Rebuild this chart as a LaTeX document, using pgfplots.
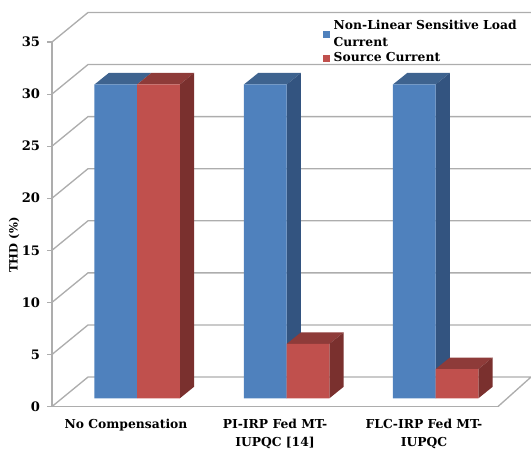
\documentclass[border=0pt]{standalone}
\usepackage{fontspec}
\setmainfont{DejaVu Serif}
\usepackage{pgfplots}
\pgfplotsset{compat=1.18}
\definecolor{wallgray}{HTML}{ADADAD}
\definecolor{bluefront}{HTML}{4F81BD}
\definecolor{bluetop}{HTML}{3E638F}
\definecolor{blueside}{HTML}{335480}
\definecolor{redfront}{HTML}{C0504D}
\definecolor{redtop}{HTML}{8E3B39}
\definecolor{redside}{HTML}{7A302E}
\pgfplotsset{squarekey/.style={legend image code/.code={\fill[##1] (0pt,-2.9pt) rectangle (5.4pt,2.6pt);}}}
\begin{document}
\begin{tikzpicture}[x=1pt,y=1pt]
\begin{axis}[
  name=chart,
  scale only axis,
  width=334.5pt, height=273.4pt,
  xmin=52, xmax=498,
  ymin=-0.784, ymax=34.06,
  clip=false,
  axis x line=bottom,
  axis y line=left,
  axis line style={wallgray, line width=1pt, -},
  ytick={-0.784,4.194,9.172,14.15,19.128,24.106,29.084,34.06},
  yticklabels={0,5,10,15,20,25,30,35},
  xtick={126,275,424},
  xticklabels={{No Compensation},{PI-IRP Fed MT-\\IUPQC [14]},{FLC-IRP Fed MT-\\IUPQC}},
  xticklabel style={align=center, font=\fontsize{9.25}{13.6}\selectfont\bfseries, yshift=-2.2pt},
  yticklabel style={font=\fontsize{9.8}{12}\selectfont\bfseries, xshift=-2pt},
  x tick style={draw=none},
  y tick style={wallgray, line width=0.8pt},
  major tick length=3.5pt,
  tick align=outside,
  extra x ticks={52,200.6,349,498},
  extra x tick labels={},
  extra x tick style={tick style={wallgray, line width=0.8pt}, major tick length=4pt},
  ylabel={THD (\%)},
  ylabel style={at={(axis description cs:-0.085,0.443)}, anchor=center, rotate=0,
    font=\fontsize{8.6}{10}\selectfont\bfseries},
  legend style={draw=none, fill=none, at={(axis cs:323,36.4)}, anchor=north west,
    font=\fontsize{9.25}{12.6}\selectfont\bfseries,
    cells={align=left, anchor=west}, row sep=-0.8pt, inner sep=0pt, outer sep=0pt,
    /tikz/column 1/.style={column sep=0.6pt}},
  bar width=42.7,
]
% side wall and back wall rules, one per tick
\addplot[sharp plot, wallgray, line width=1pt, forget plot] coordinates {(498,-0.784) (531,2.036) (88,2.036) (52,-0.784)};
\addplot[sharp plot, wallgray, line width=1pt, forget plot] coordinates {(52,4.194) (88,7.014) (531,7.014)};
\addplot[sharp plot, wallgray, line width=1pt, forget plot] coordinates {(52,9.172) (88,11.992) (531,11.992)};
\addplot[sharp plot, wallgray, line width=1pt, forget plot] coordinates {(52,14.15) (88,16.97) (531,16.97)};
\addplot[sharp plot, wallgray, line width=1pt, forget plot] coordinates {(52,19.128) (88,21.948) (531,21.948)};
\addplot[sharp plot, wallgray, line width=1pt, forget plot] coordinates {(52,24.106) (88,26.926) (531,26.926)};
\addplot[sharp plot, wallgray, line width=1pt, forget plot] coordinates {(52,29.084) (88,31.904) (531,31.904)};
\addplot[sharp plot, wallgray, line width=1pt, forget plot] coordinates {(52,34.06) (88,36.88) (531,36.88)};

% blue series: top and side faces, then front faces
\addplot[sharp plot, fill=bluetop, draw=none, forget plot] coordinates {(94.5,30) (108.8,31.1) (151.3,31.1) (137,30)} -- cycle;
\addplot[sharp plot, fill=bluetop, draw=none, forget plot] coordinates {(243.9,30) (258.2,31.1) (300.9,31.1) (286.6,30)} -- cycle;
\addplot[sharp plot, fill=bluetop, draw=none, forget plot] coordinates {(392.9,30) (407.2,31.1) (449.9,31.1) (435.6,30)} -- cycle;
\addplot[sharp plot, fill=blueside, draw=none, forget plot] coordinates {(286.6,0) (300.9,1.1) (300.9,31.1) (286.6,30)} -- cycle;
\addplot[sharp plot, fill=blueside, draw=none, forget plot] coordinates {(435.6,0) (449.9,1.1) (449.9,31.1) (435.6,30)} -- cycle;
\addplot[ybar, bar shift=0pt, fill=bluefront, draw=none, squarekey] coordinates {(115.8,30) (265.2,30) (414.2,30)};
\addlegendentry{Non-Linear Sensitive Load\\Current}

% red series: top and side faces, then front faces
\addplot[sharp plot, fill=redtop, draw=none, forget plot] coordinates {(137,30) (151.3,31.1) (194,31.1) (179.8,30)} -- cycle;
\addplot[sharp plot, fill=redtop, draw=none, forget plot] coordinates {(286.6,5.2) (300.9,6.3) (343.6,6.3) (329.3,5.2)} -- cycle;
\addplot[sharp plot, fill=redtop, draw=none, forget plot] coordinates {(435.6,2.8) (449.9,3.9) (492.6,3.9) (478.3,2.8)} -- cycle;
\addplot[sharp plot, fill=redside, draw=none, forget plot] coordinates {(179.8,0) (194,1.1) (194,31.1) (179.8,30)} -- cycle;
\addplot[sharp plot, fill=redside, draw=none, forget plot] coordinates {(329.3,0) (343.6,1.1) (343.6,6.3) (329.3,5.2)} -- cycle;
\addplot[sharp plot, fill=redside, draw=none, forget plot] coordinates {(478.3,0) (492.6,1.1) (492.6,3.9) (478.3,2.8)} -- cycle;
\addplot[ybar, bar shift=0pt, fill=redfront, draw=none, squarekey] coordinates {(158.4,30) (308,5.2) (457,2.8)};
\addlegendentry{Source Current}
\end{axis}
% page extent around the axis box
\pgfresetboundingbox
\useasboundingbox ([shift={(-39pt,-31.875pt)}]chart.south west) rectangle ([shift={(24.75pt,31.5pt)}]chart.north east);
\end{tikzpicture}
\end{document}
